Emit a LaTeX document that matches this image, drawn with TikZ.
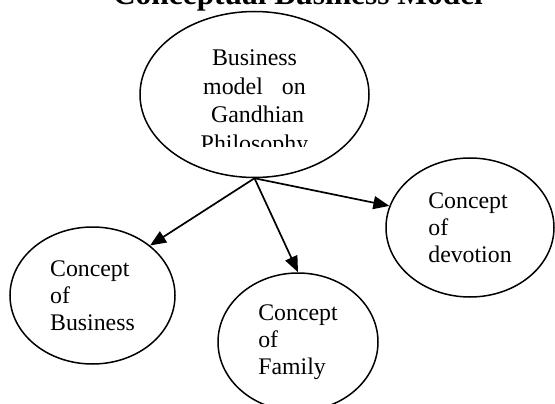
\documentclass[tikz,border=0pt]{standalone}
\usepackage{fontspec}
\setmainfont{Liberation Serif}
\usetikzlibrary{arrows.meta, shapes.geometric}

\tikzset{
    bubble/.style={draw, ellipse, line width=1.5pt, inner sep=0pt, align=left,
        font=\fontsize{23.8}{27.2}\selectfont},
    maintext/.style={align=center, inner sep=0pt,
        font=\fontsize{23.9}{28.5}\selectfont},
    link/.style={line width=1.7pt, -{Triangle[length=16pt, width=13pt]}}
}

\begin{document}
\begin{tikzpicture}[x=1pt, y=-1pt]
    \useasboundingbox (0, 0) rectangle (555, 404);
    % Title
    \node[anchor=base, font=\fontsize{31.4}{36}\selectfont\bfseries] (title) at (298, 5)
        {Conceptual Business Model};
    % Main ellipse
    \node[bubble, minimum width=229pt, minimum height=166pt] (gandhi) at (254.5, 94.5) {};
    \begin{scope}
        \clip (0, 0) rectangle (555, 147);
        \node[maintext] (gandhitext) at ([yshift=-8.5pt]gandhi.center)
            {Business\\model\hspace{19pt}on\\\hspace*{6pt}Gandhian\\Philosophy};
    \end{scope}
    % Concepts
    \node[bubble, minimum width=165pt, minimum height=137pt] (business) at (92.5, 295.5)
        {Concept\\of\\Business};
    \node[bubble, minimum width=160pt, minimum height=138pt] (family) at (298, 342)
        {Concept\\of\\Family};
    \node[bubble, minimum width=168pt, minimum height=139pt] (devotion) at (470, 227.5)
        {Concept\\of\\devotion};
    % Arrows
    \draw[link] (gandhi.south) -- (business.41);
    \draw[link] (gandhi.south) -- (family.north);
    \draw[link] (gandhi.south) -- (devotion.165);
\end{tikzpicture}
\end{document}
